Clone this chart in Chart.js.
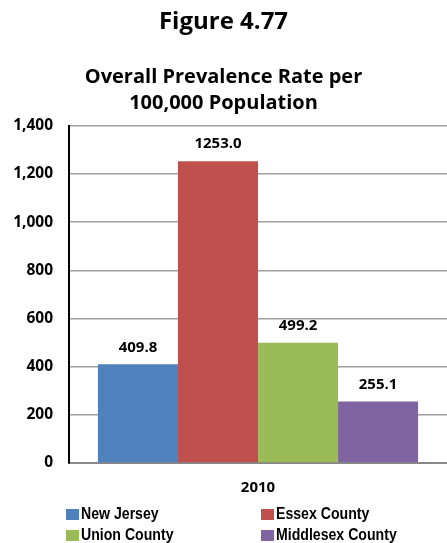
<!DOCTYPE html>
<html><head><meta charset="utf-8">
<script src="https://cdn.jsdelivr.net/npm/chart.js@4/dist/chart.umd.min.js"></script>
<style>
html,body{margin:0;padding:0;background:#fff;}
#wrap{position:relative;width:447px;height:543px;overflow:hidden;}
#c{position:absolute;left:0;top:0;}
.t{position:absolute;font-family:"Liberation Sans",Arial,sans-serif;font-weight:bold;color:#000;white-space:nowrap;transform-origin:0 0;}
.sq{position:absolute;width:13px;height:11px;}
</style></head>
<body><div id="wrap"><canvas id="c" width="447" height="505"></canvas><div id="over"></div></div>
<script>
const categories = ["2010"];
const seriesNames = ["New Jersey","Essex County","Union County","Middlesex County"];
const seriesValues = [[409.8],[1253.0],[499.2],[255.1]];
const seriesColors = ["#4F81BD","#C0504D","#9BBB59","#8064A2"];
const yTicks = [0,200,400,600,800,1000,1200,1400];
const figureTitle = "Figure 4.77";
const chartTitle = ["Overall Prevalence Rate per","100,000 Population"];
const WIDE = "'Open Sans',sans-serif";

const valueLabels = {
  id:'valueLabels',
  afterDatasetsDraw(chart){
    const ctx = chart.ctx;
    ctx.save();
    ctx.font = "bold 15px " + WIDE;
    ctx.fillStyle = "#000";
    ctx.textAlign = "center";
    ctx.textBaseline = "middle";
    chart.data.datasets.forEach((ds,i)=>{
      chart.getDatasetMeta(i).data.forEach((bar,j)=>{
        ctx.fillText(ds.data[j].toFixed(1), bar.x, bar.y - 17);
      });
    });
    ctx.restore();
  }
};

new Chart(document.getElementById('c'), {
  type:'bar',
  data:{
    labels:categories,
    datasets:seriesNames.map((n,i)=>({label:n,data:seriesValues[i],backgroundColor:seriesColors[i],borderWidth:0}))
  },
  options:{
    responsive:false,
    animation:false,
    layout:{padding:{left:0,right:0,top:0,bottom:0}},
    datasets:{bar:{categoryPercentage:0.847,barPercentage:1}},
    plugins:{
      legend:{display:false},
      tooltip:{enabled:false},
      title:{display:true,text:figureTitle,color:"#000",font:{family:WIDE,size:24,weight:'bold',lineHeight:1.2},padding:{top:8,bottom:27}},
      subtitle:{display:true,text:chartTitle,color:"#000",font:{family:WIDE,size:20,weight:'bold',lineHeight:1.3},padding:{top:0,bottom:10}}
    },
    scales:{
      x:{
        grid:{display:false,drawTicks:false},
        border:{display:true,color:"#888",width:2},
        ticks:{color:"#000",font:{family:WIDE,size:15,weight:'bold'},padding:16},
        afterFit(s){s.height=42;}
      },
      y:{
        min:0,max:1400,
        afterBuildTicks(s){s.ticks=yTicks.map(v=>({value:v}));},
        grid:{color:"#a0a0a0",lineWidth:1.5,drawTicks:false},
        border:{display:true,color:"#000",width:2},
        ticks:{color:"#000",font:{family:WIDE,size:15.5,weight:'bold'},padding:16,
          callback:(v)=>v.toLocaleString('en-US')},
        afterFit(s){s.width=69;}
      }
    }
  },
  plugins:[valueLabels]
});

// legend (text compressed horizontally like the reference)
const over = document.getElementById('over');
function addText(txt, fs, sx, capCenterY, left){
  const d = document.createElement('div');
  d.className='t';
  d.style.fontSize=fs+'px';
  d.style.lineHeight=fs+'px';
  d.textContent=txt;
  d.style.top=(capCenterY-0.4885*fs)+'px';
  d.style.left=left+'px';
  d.style.transform='scaleX('+sx+')';
  over.appendChild(d);
}
const legPos = [[66,513],[261,513],[66,534],[261,534]];
seriesNames.forEach((n,i)=>{
  const s = document.createElement('div');
  s.className='sq';
  s.style.background=seriesColors[i];
  s.style.left=legPos[i][0]+'px';
  s.style.top=(legPos[i][1]-4)+'px';
  over.appendChild(s);
  addText(n, 17, 0.83, legPos[i][1], legPos[i][0]+15);
});
</script>
</body></html>
